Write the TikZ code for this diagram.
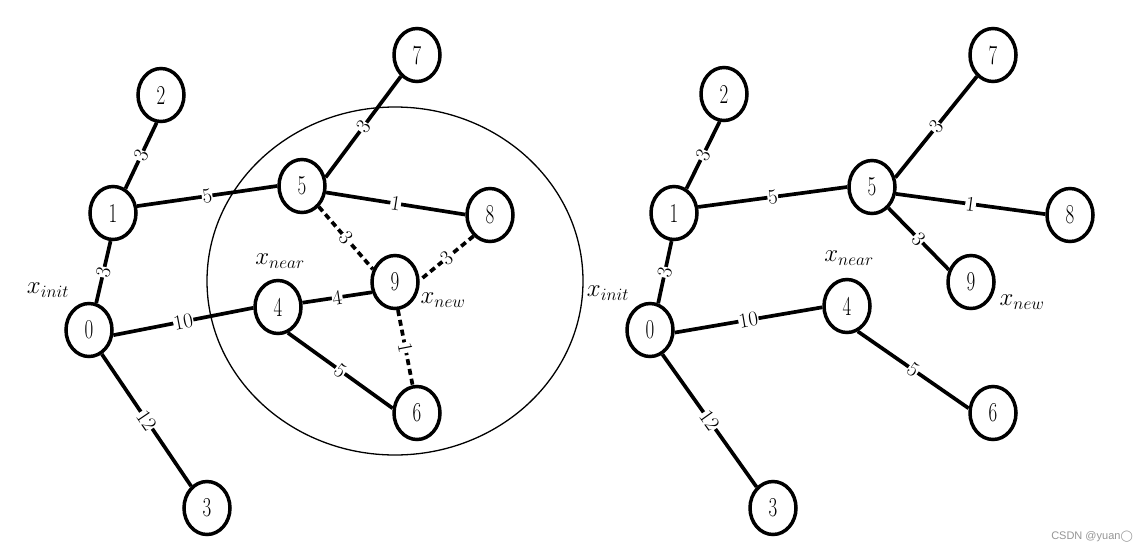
\documentclass[tikz,border=0pt]{standalone}
\usepackage{fontspec}
\usepackage{graphicx}
\usetikzlibrary{shapes.geometric}
\newfontfamily\wmfont{Liberation Sans}
\newfontfamily\dvfont{DejaVu Sans}
\newcommand\vlab[1]{\scalebox{0.9}[1.3]{\fontsize{21}{24}\selectfont #1}}
\definecolor{wmgray}{RGB}{150,150,150}
\tikzset{
  vtx/.style={ellipse, draw, fill=white, line width=3.5pt, minimum width=46pt, minimum height=53pt, inner sep=0pt},
  edg/.style={line width=3.7pt},
  dedg/.style={line width=3.7pt, dash pattern=on 6pt off 4pt},
  elab/.style={fill=white, inner sep=0.5pt, sloped, font=\fontsize{21}{22}\selectfont},
  mlab/.style={font=\fontsize{23}{26}\selectfont, inner sep=0pt},
}
\begin{document}
\begin{tikzpicture}[x=1pt,y=-1pt]
\useasboundingbox (0,0) rectangle (1147,554);
\fill[white] (0,0) rectangle (1147,554);
% ---- left tree ----
\draw[line width=1.3pt] (395,281) ellipse [x radius=188pt, y radius=174pt];
\node[vtx] (a0) at (89,330) {\vlab{0}};
\node[vtx] (a1) at (113,213) {\vlab{1}};
\node[vtx] (a2) at (161,95) {\vlab{2}};
\node[vtx] (a3) at (207,508) {\vlab{3}};
\node[vtx] (a4) at (278,307) {\vlab{4}};
\node[vtx] (a5) at (302,186) {\vlab{5}};
\node[vtx] (a7) at (417,55) {\vlab{7}};
\node[vtx] (a8) at (490,215) {\vlab{8}};
\node[vtx] (a9) at (395,282) {\vlab{9}};
\node[vtx] (a6) at (417,413) {\vlab{6}};
\node[mlab] (ainit) at (48,290) {$x_{init}$};
\node[mlab] (anear) at (280,261) {$x_{near}$};
\node[mlab] (anew) at (443,300) {$x_{new}$};
\draw[edg] (a0.75) -- node[elab]{3} (a1.265);
\draw[edg] (a1.63) -- node[elab]{3} (a2.261);
\draw[edg] (a1.16) -- node[elab]{5} (a5.180);
\draw[edg] (a0.-12) -- node[elab]{10} (a4.182);
\draw[edg] (a0.-62) -- node[elab]{12} (a3.126);
\draw[edg] (a5.20) -- node[elab]{3} (a7.233);
\draw[edg] (a5.-15) -- node[elab]{1} (a8.179);
\draw[edg] (a4.10) -- node[elab]{4} (a9.204);
\draw[edg] (a4.-69) -- node[elab]{5} (a6.169);
\draw[dedg] (a5.-51) -- node[elab]{3} (a9.150);
\draw[dedg] (a8.232) -- node[elab]{3} (a9.4);
\draw[dedg] (a9.-84) -- node[elab]{1} (a6.99);
% ---- right tree ----
\node[vtx] (b0) at (650,330) {\vlab{0}};
\node[vtx] (b1) at (674,213) {\vlab{1}};
\node[vtx] (b2) at (724,94) {\vlab{2}};
\node[vtx] (b3) at (773,508) {\vlab{3}};
\node[vtx] (b4) at (847,306) {\vlab{4}};
\node[vtx] (b5) at (872,187) {\vlab{5}};
\node[vtx] (b7) at (993,55) {\vlab{7}};
\node[vtx] (b8) at (1070,215) {\vlab{8}};
\node[vtx] (b9) at (971,282) {\vlab{9}};
\node[vtx] (b6) at (993,413) {\vlab{6}};
\node[mlab] (binit) at (608,293) {$x_{init}$};
\node[mlab] (bnear) at (849,258) {$x_{near}$};
\node[mlab] (bnew) at (1022,302) {$x_{new}$};
\draw[edg] (b0.73) -- node[elab]{3} (b1.265);
\draw[edg] (b1.63) -- node[elab]{3} (b2.261);
\draw[edg] (b1.14) -- node[elab]{5} (b5.180);
\draw[edg] (b0.-6) -- node[elab]{10} (b4.183);
\draw[edg] (b0.-63) -- node[elab]{12} (b3.128);
\draw[edg] (b5.22) -- node[elab]{3} (b7.233);
\draw[edg] (b5.-16) -- node[elab]{1} (b8.178);
\draw[edg] (b5.-52) -- node[elab]{3} (b9.151);
\draw[edg] (b4.-67) -- node[elab]{5} (b6.169);
% ---- watermark ----
\node[text=wmgray, font=\wmfont\fontsize{11}{13}\selectfont, inner sep=0pt, anchor=east] (wm) at (1133,537) {CSDN @yuan{\dvfont ◯}};
\end{tikzpicture}
\end{document}
